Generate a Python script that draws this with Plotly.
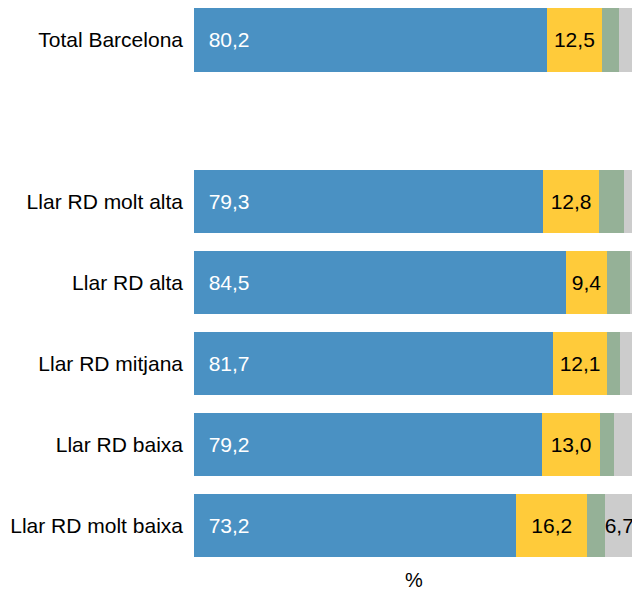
import plotly.graph_objects as go

# Categories (top to bottom) and the four stacked shares, in %
categories = ["Total Barcelona", "Llar RD molt alta", "Llar RD alta",
              "Llar RD mitjana", "Llar RD baixa", "Llar RD molt baixa"]
blue = [80.2, 79.3, 84.5, 81.7, 79.2, 73.2]
yellow = [12.5, 12.8, 9.4, 12.1, 13.0, 16.2]
green = [3.9, 5.7, 5.3, 3.1, 3.2, 3.9]
grey = [3.4, 2.2, 0.8, 3.1, 4.6, 6.7]

# empty slot between the total and the income groups
axis_order = categories[:1] + [" "] + categories[1:]

FONT = "Liberation Sans, Arial, sans-serif"
FS = 21


def fmt(v):
    return f"{v:.1f}".replace(".", ",")


fig = go.Figure()

series = [
    (blue, "#4a91c3", "white", "start"),
    (yellow, "#ffcb3a", "black", "mid"),
    (green, "#95b197", "black", None),
    (grey, "#cccccc", "black", "big"),
]

for vals, color, tcolor, mode in series:
    if mode == "start":
        text = ["  " + fmt(v) for v in vals]
    elif mode == "mid":
        text = [fmt(v) for v in vals]
    elif mode == "big":
        text = [fmt(v) if v >= 5 else "" for v in vals]
    else:
        text = ["" for v in vals]
    fig.add_trace(go.Bar(
        x=vals,
        y=categories,
        orientation="h",
        marker=dict(color=color, line=dict(width=0)),
        width=0.78,
        text=text,
        textposition="inside" if mode else "none",
        insidetextanchor="start" if mode == "start" else "middle",
        textfont=dict(color=tcolor, size=FS, family=FONT),
        constraintext="none",
        textangle=0,
        hoverinfo="skip",
        showlegend=False,
    ))

fig.add_annotation(
    text="%", x=0.5, y=0, xref="paper", yref="paper",
    xanchor="center", yanchor="top", yshift=-1, showarrow=False,
    font=dict(size=20, color="black", family=FONT),
)

fig.update_layout(
    barmode="stack",
    width=626,
    height=584,
    margin=dict(l=186, r=0, t=0, b=26, autoexpand=False),
    plot_bgcolor="white",
    paper_bgcolor="white",
    font=dict(family=FONT, size=FS, color="black"),
    xaxis=dict(
        range=[0, 100],
        showgrid=False,
        zeroline=False,
        showticklabels=False,
        showline=False,
    ),
    yaxis=dict(
        categoryorder="array",
        categoryarray=axis_order,
        range=[6.5, -0.395],
        showgrid=False,
        zeroline=False,
        showline=False,
        ticks="",
        ticklabelstandoff=10,
        tickfont=dict(size=FS, color="black"),
    ),
)

fig.write_html("out.html")
